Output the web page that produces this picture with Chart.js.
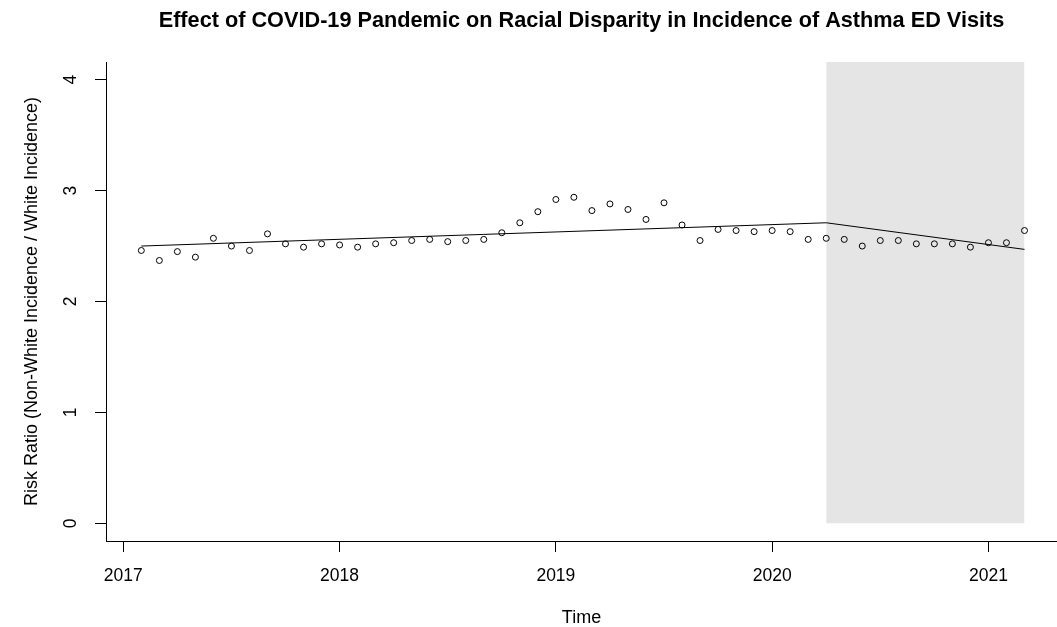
<!DOCTYPE html>
<html>
<head>
<meta charset="utf-8">
<script src="https://cdn.jsdelivr.net/npm/chart.js@4/dist/chart.umd.min.js"></script>
<style>
  html, body { margin: 0; padding: 0; background: #fff; overflow: hidden; }
</style>
</head>
<body>
<canvas id="asthmaChart" width="1057" height="627"></canvas>
<script>
// monthly observations, Feb 2017 - Mar 2021
const months = [
    '2017-02', '2017-03', '2017-04', '2017-05', '2017-06', '2017-07', '2017-08', '2017-09', '2017-10', '2017-11', '2017-12',
    '2018-01', '2018-02', '2018-03', '2018-04', '2018-05', '2018-06', '2018-07', '2018-08', '2018-09', '2018-10', '2018-11', '2018-12',
    '2019-01', '2019-02', '2019-03', '2019-04', '2019-05', '2019-06', '2019-07', '2019-08', '2019-09', '2019-10', '2019-11', '2019-12',
    '2020-01', '2020-02', '2020-03', '2020-04', '2020-05', '2020-06', '2020-07', '2020-08', '2020-09', '2020-10', '2020-11', '2020-12',
    '2021-01', '2021-02', '2021-03'
];
const riskRatio = [
    2.46, 2.37, 2.45, 2.40, 2.57, 2.50, 2.46, 2.61, 2.52, 2.49, 2.52,
    2.51, 2.49, 2.52, 2.53, 2.55, 2.56, 2.54, 2.55, 2.56, 2.62, 2.71, 2.81,
    2.92, 2.94, 2.82, 2.88, 2.83, 2.74, 2.89, 2.69, 2.55, 2.65, 2.64, 2.63,
    2.64, 2.63, 2.56, 2.57, 2.56, 2.50, 2.55, 2.55, 2.52, 2.52, 2.52, 2.49,
    2.53, 2.53, 2.64
];

// segmented regression fit (start, break at pandemic onset, end)
const fitMonths = ['2017-02', '2020-04', '2021-03'];
const fitValues = [2.50, 2.71, 2.47];

// pandemic period shading
const pandemicMonths = ['2020-04', '2021-03'];

const xTicks = [2017, 2018, 2019, 2020, 2021];
const yTicks = [0, 1, 2, 3, 4];
const xMin = 2016.92, xMax = 2021.317;
const yMin = -0.16, yMax = 4.16;

// "YYYY-MM" -> decimal year
function toYear(m) {
    const parts = m.split('-');
    return parseInt(parts[0]) + (parseInt(parts[1]) - 1) / 12;
}

const pointData = months.map((m, i) => ({ x: toYear(m), y: riskRatio[i] }));
const fitData = fitMonths.map((m, i) => ({ x: toYear(m), y: fitValues[i] }));
const shadeData = pandemicMonths.map(m => ({ x: toYear(m), y: yMax }));

const FONT = '"Liberation Sans", Arial, Helvetica, sans-serif';

const ctx = document.getElementById('asthmaChart').getContext('2d');
new Chart(ctx, {
    type: 'scatter',
    data: {
        datasets: [
            {
                label: 'Pandemic',
                data: shadeData,
                showLine: true,
                fill: 'origin',
                backgroundColor: '#e5e5e5',
                borderWidth: 0,
                pointRadius: 0,
                order: 3
            },
            {
                label: 'Fit',
                data: fitData,
                showLine: true,
                borderColor: '#000',
                borderWidth: 1,
                pointRadius: 0,
                fill: false,
                order: 2
            },
            {
                label: 'Risk Ratio',
                data: pointData,
                pointStyle: 'circle',
                pointRadius: 3,
                borderWidth: 1,
                borderColor: '#000',
                backgroundColor: 'rgba(0,0,0,0)',
                order: 1
            }
        ]
    },
    options: {
        responsive: false,
        animation: false,
        devicePixelRatio: 1,
        layout: { padding: 0, autoPadding: false },
        plugins: {
            legend: { display: false },
            tooltip: { enabled: false },
            title: {
                display: true,
                fullSize: false,
                text: 'Effect of COVID-19 Pandemic on Racial Disparity in Incidence of Asthma ED Visits',
                color: '#000',
                font: { family: FONT, size: 21.7, weight: 'bold', lineHeight: 1 },
                padding: { top: 10, bottom: 30.3 }
            }
        },
        scales: {
            x: {
                type: 'linear',
                min: xMin,
                max: xMax,
                afterBuildTicks: scale => { scale.ticks = xTicks.map(v => ({ value: v })); },
                afterFit: scale => {
                    scale.height = 86;
                    // let the axis run to the right edge like the R box
                    scale.paddingLeft = 0;
                    scale.paddingRight = 0;
                },
                border: { display: true, color: '#000', width: 1 },
                grid: { drawOnChartArea: false, drawTicks: true, tickLength: 11, color: '#000', tickColor: '#000' },
                ticks: {
                    color: '#000',
                    font: { family: FONT, size: 17.5 },
                    padding: 14,
                    maxRotation: 0,
                    autoSkip: false,
                    callback: v => String(v)
                },
                title: {
                    display: true,
                    text: 'Time',
                    color: '#000',
                    font: { family: FONT, size: 18, lineHeight: 1 },
                    padding: { top: 0, bottom: 0 }
                }
            },
            y: {
                type: 'linear',
                min: yMin,
                max: yMax,
                afterBuildTicks: scale => { scale.ticks = yTicks.map(v => ({ value: v })); },
                afterFit: scale => { scale.width = 106; },
                border: { display: true, color: '#000', width: 1 },
                grid: { drawOnChartArea: false, drawTicks: true, tickLength: 11, color: '#000', tickColor: '#000' },
                ticks: {
                    color: '#000',
                    font: { family: FONT, size: 17.5 },
                    padding: 18.5,
                    minRotation: 90,
                    maxRotation: 90,
                    crossAlign: 'center',
                    autoSkip: false,
                    callback: v => String(v)
                },
                title: {
                    display: true,
                    text: 'Risk Ratio (Non-White Incidence / White Incidence)',
                    color: '#000',
                    font: { family: FONT, size: 18, lineHeight: 1 },
                    padding: { top: 23, bottom: 0 }
                }
            }
        }
    }
});
</script>
</body>
</html>
